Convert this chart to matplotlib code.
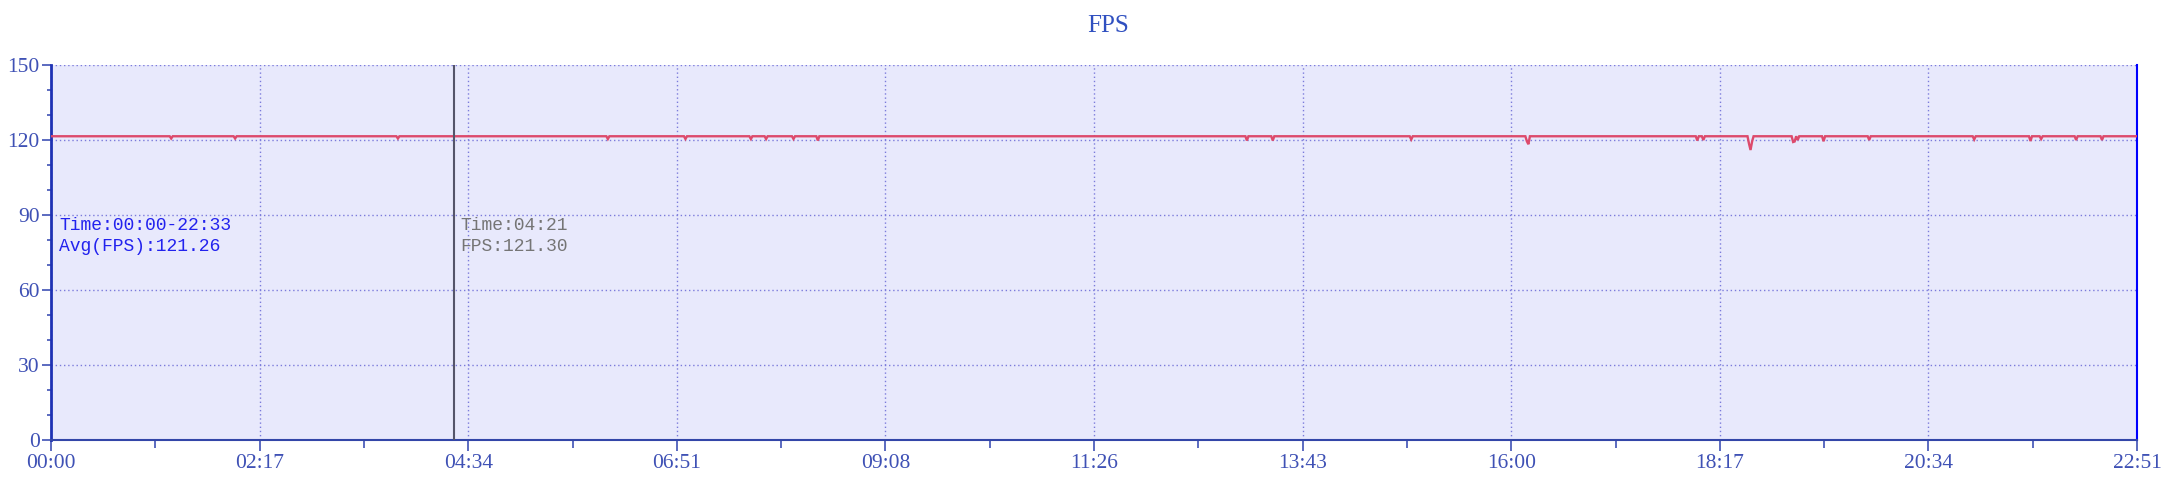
import numpy as np
import matplotlib
matplotlib.use("Agg")
import matplotlib.pyplot as plt
from matplotlib.ticker import MultipleLocator, FixedLocator

# ---- data ----
duration_s = 1371            # 22:51
base_fps = 121.5
dip_times = [79, 121, 228, 366, 417, 460, 470, 488, 504, 786, 803, 894, 970, 971,
             1082, 1086, 1116, 1117, 1118, 1145, 1146, 1148, 1165, 1195, 1264,
             1301, 1308, 1331, 1348]
dip_values = [120.6, 120.6, 120.6, 120.4, 120.4, 120.4, 120.4, 120.4, 119.8, 119.8,
              119.8, 120.2, 119.5, 118.3, 119.8, 120.0, 118.5, 116.0, 119.3, 119.2,
              119.4, 120.0, 119.5, 120.0, 120.2, 119.6, 120.4, 120.0, 120.0]
x_tick_labels = ["00:00", "02:17", "04:34", "06:51", "09:08", "11:26",
                 "13:43", "16:00", "18:17", "20:34", "22:51"]
y_ticks = [0, 30, 60, 90, 120, 150]
cursor_time = 265
summary_lines = ["Time:00:00-22:33", "Avg(FPS):121.26"]
cursor_lines = ["Time:04:21", "FPS:121.30"]

t = np.arange(0, duration_s + 1)
fps = np.full(t.shape, base_fps, dtype=float)
for tt, v in zip(dip_times, dip_values):
    fps[tt] = v

# ---- styling ----
plt.rcParams["savefig.bbox"] = None
bg = "#E8E9FC"
tick_col = "#3F51B5"
grid_col = "#7B7BDB"
line_col = "#DD4A6C"

fig = plt.figure(figsize=(21.63, 4.92), dpi=100)
ax = fig.add_axes([51/2163, 1-440/492, (2137-51)/2163, (440-65)/492])
ax.set_facecolor(bg)

ax.plot(t, fps, color=line_col, lw=1.7, solid_joinstyle="miter", zorder=3)

ax.set_xlim(0, duration_s)
ax.set_ylim(0, 150)

step = duration_s / 10
major_x = [i * step for i in range(11)]
minor_x = [(i + 0.5) * step for i in range(10)]
ax.xaxis.set_major_locator(FixedLocator(major_x))
ax.xaxis.set_minor_locator(FixedLocator(minor_x))
ax.set_xticklabels(x_tick_labels)
ax.yaxis.set_major_locator(FixedLocator(y_ticks))
ax.yaxis.set_minor_locator(MultipleLocator(10))

ax.grid(True, which="major", color=grid_col, ls=(0, (1, 2)), lw=1.0, zorder=1)

serif = ["Liberation Serif", "DejaVu Serif"]
for lab in ax.get_xticklabels() + ax.get_yticklabels():
    lab.set_family(serif)
    lab.set_fontsize(15.5)
    lab.set_color(tick_col)

ax.tick_params(axis="x", which="major", length=8, width=1.2, color=tick_col, pad=2)
ax.tick_params(axis="x", which="minor", length=5.5, width=1.2, color=tick_col)
ax.tick_params(axis="y", which="major", length=6.5, width=1.2, color=tick_col, pad=1.5)
ax.tick_params(axis="y", which="minor", length=3.2, width=1.2, color=tick_col)

ax.spines["top"].set_visible(False)
ax.spines["left"].set_color("#1E32B4")
ax.spines["left"].set_linewidth(2.0)
ax.spines["bottom"].set_color("#3346A8")
ax.spines["bottom"].set_linewidth(1.5)
ax.spines["right"].set_color("#0000FF")
ax.spines["right"].set_linewidth(1.5)

# cursor
ax.axvline(cursor_time, color="#55556A", lw=1.5, zorder=4)

mono = ["Liberation Mono", "DejaVu Sans Mono"]
ax.text(0.004, 0.571, summary_lines[0], transform=ax.transAxes, family=mono,
        fontsize=13, color="#2222EE", va="center", ha="left")
ax.text(0.004, 0.515, summary_lines[1], transform=ax.transAxes, family=mono,
        fontsize=13, color="#2222EE", va="center", ha="left")
ax.text(cursor_time + 4, 150 * 0.571, cursor_lines[0], family=mono,
        fontsize=13, color="#757575", va="center", ha="left")
ax.text(cursor_time + 4, 150 * 0.515, cursor_lines[1], family=mono,
        fontsize=13, color="#757575", va="center", ha="left")

fig.text(1108/2163, 1 - 26/492, "FPS", family=serif, fontsize=18,
         color="#3050C0", ha="center", va="center")

fig.savefig("out.png", dpi=100, facecolor="white", bbox_inches=None)
